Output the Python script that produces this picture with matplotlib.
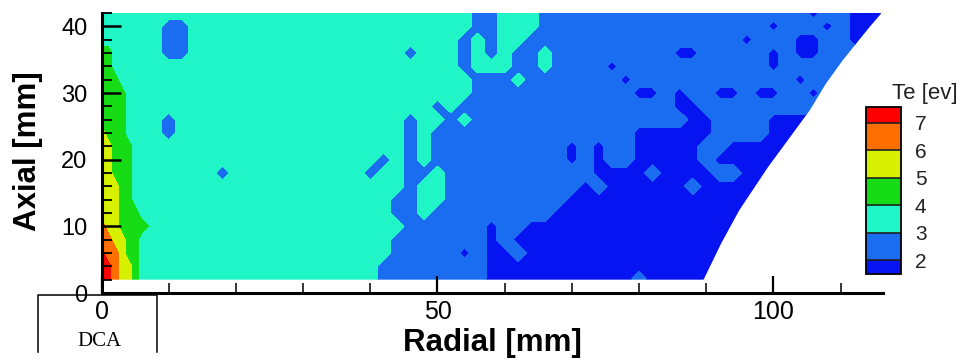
import numpy as np
import matplotlib
matplotlib.use("Agg")
import matplotlib.pyplot as plt
from matplotlib.colors import ListedColormap, BoundaryNorm
from matplotlib.patches import Polygon
from matplotlib.lines import Line2D
from matplotlib.ticker import MultipleLocator, FixedLocator

plt.rcParams['font.family'] = ['Liberation Sans', 'DejaVu Sans']

# ---- data -------------------------------------------------------------
# sample positions (mm)
radial_mm = [0, 1, 2, 3, 4, 5, 6] + list(range(8, 117, 2))
axial_mm = list(range(2, 43, 2))

# Te band read at each sample (one string per axial row, top row = 42 mm)
# columns: r=0..6 (1 mm step) then r=8..116 (2 mm step, groups of 10 mm)
te_rows = [
    "3333333 33333 33333 33333 33333 33332 23332 22222 22222 22222 22221 22111",  # 42
    "3333333 32233 33333 33333 33333 33332 23332 22222 22222 22222 21222 12111",  # 40
    "3333333 32233 33333 33333 33333 33323 23322 22222 22222 22221 22211 22111",  # 38
    "4433333 32233 33333 33333 33332 33323 23223 22222 22221 12222 21211 22222",  # 36
    "4433333 33333 33333 33333 33333 33323 33223 22221 22222 22222 21222 22222",  # 34
    "4443333 33333 33333 33333 33333 33332 22322 22222 12222 22222 22212 22222",  # 32
    "4444333 33333 33333 33333 33333 33332 22222 22222 21121 22112 11221 22222",  # 30
    "4444333 33333 33333 33333 33333 32322 22222 22222 22221 12222 22222 22222",  # 28
    "4444333 32333 33333 33333 33332 33232 22222 22222 22222 11222 21111 11111",  # 26
    "5444333 32333 33333 33333 33332 32222 22222 22222 21111 11222 21111 11111",  # 24
    "5544433 33333 33333 33333 33332 32222 22222 21212 21111 12211 11111 11111",  # 22
    "5544433 33333 33333 33333 33232 32222 22222 21212 21111 12111 11111 11111",  # 20
    "5544433 33333 23333 33333 32332 23222 22222 22211 11211 11221 11111 11111",  # 18
    "5554433 33333 33333 33333 33332 33222 22222 22121 11111 21111 11111 11111",  # 16
    "5554433 33333 33333 33333 33322 33222 22222 21111 11111 11111 11111 11111",  # 14
    "5554443 33333 33333 33333 33322 32222 22222 11111 11111 11111 11111 11111",  # 12
    "6554444 33333 33333 33333 33332 22222 12211 11111 11111 11111 11111 11111",  # 10
    "6655443 33333 33333 33333 33322 22222 12111 11111 11111 11111 11111 11111",  # 8
    "7665443 33333 33333 33333 33322 22212 11211 11111 11111 11111 11111 11111",  # 6
    "7765543 33333 33333 33333 33222 22222 11111 11111 11111 11111 11111 11111",  # 4
    "7765543 33333 33333 33333 33222 22222 11111 11111 12111 11111 11111 11111",  # 2
]
te_code = {'1': 1.7, '2': 2.5, '3': 3.5, '4': 4.5, '5': 5.5, '6': 6.5, '7': 7.3}

# measurement domain outline (mm)
domain_r = [0, 89.6, 92.2, 94.9, 99.2, 105.4, 107.8, 110.3, 112.3, 114.3, 116.1, 0]
domain_z = [2, 2, 7.4, 12.4, 18.9, 27.4, 31.4, 34.9, 37.4, 39.9, 42, 42]

te_levels = [1.5, 2, 3, 4, 5, 6, 7, 7.57]
te_ticks = [2, 3, 4, 5, 6, 7]
band_colors = ['#0514f0', '#1a6cf0', '#20f5c8', '#16dc16', '#d6f000', '#ff6e00', '#ff0000']

# ---- figure -----------------------------------------------------------
W, H = 963, 362
fig = plt.figure(figsize=(W / 100, H / 100), dpi=100)
ax = fig.add_axes([101.5 / W, 1 - 293 / H, (883 - 101.5) / W, 280 / H])

te = np.array([[te_code[c] for c in row.replace(" ", "")] for row in te_rows[::-1]])
R, Z = np.meshgrid(radial_mm, axial_mm)

cmap = ListedColormap(band_colors)
norm = BoundaryNorm(te_levels, cmap.N)
cs = ax.contourf(R, Z, te, levels=te_levels, cmap=cmap, norm=norm)
clip = Polygon(np.column_stack([domain_r, domain_z]), closed=True,
               transform=ax.transData, facecolor='none', edgecolor='none')
cs.set_clip_path(clip)

ax.set_xlim(0, 116.3)
ax.set_ylim(0, 42)
for s in ('top', 'right'):
    ax.spines[s].set_visible(False)
for s in ('left', 'bottom'):
    ax.spines[s].set_linewidth(2.2)

ax.xaxis.set_major_locator(FixedLocator([0, 50, 100]))
ax.xaxis.set_minor_locator(MultipleLocator(10))
ax.yaxis.set_major_locator(MultipleLocator(10))
ax.yaxis.set_minor_locator(MultipleLocator(2))
ax.tick_params(axis='x', which='major', direction='in', length=12, width=1.6,
               labelsize=18, pad=5, top=False)
ax.tick_params(axis='x', which='minor', direction='in', length=7, width=1.1, top=False)
ax.tick_params(axis='y', which='major', direction='in', length=14, width=1.8,
               labelsize=17, pad=10, right=False)
ax.tick_params(axis='y', which='minor', direction='in', length=7.5, width=1.3, right=False)

ax.set_xlabel("Radial [mm]", fontsize=22.5, fontweight='bold')
ax.set_ylabel("Axial [mm]", fontsize=22.5, fontweight='bold')
ax.xaxis.set_label_coords((492 - 101.5) / 781.5, (293 - 343) / 280)
ax.xaxis.label.set_verticalalignment('center')
ax.yaxis.set_label_coords((28 - 101.5) / 781.5, (293 - 151) / 280)
ax.yaxis.label.set_verticalalignment('center')

# colorbar
cax = fig.add_axes([866 / W, 1 - 274 / H, 35 / W, 167 / H])
cb = fig.colorbar(cs, cax=cax, ticks=te_ticks, drawedges=True, spacing='proportional')
cb.minorticks_off()
cb.outline.set_linewidth(1.3)
cb.dividers.set_color('#202020')
cb.dividers.set_linewidth(1.2)
cax.tick_params(which='both', length=0, labelsize=15, pad=10, colors='#222222')
fig.text(925 / W, 1 - 93 / H, "Te [ev]", ha='center', va='center', fontsize=16, color='#222222')

# DCA marker box
fig.add_artist(Line2D([38 / W, 38 / W, 157 / W, 157 / W],
                      [1 - 352 / H, 1 - 295 / H, 1 - 295 / H, 1 - 352 / H],
                      color='black', linewidth=1.1, transform=fig.transFigure))
fig.text(99.5 / W, 1 - 341 / H, "DCA", ha='center', va='center', fontsize=15,
         family=['Liberation Serif', 'DejaVu Serif'])

fig.savefig("out.png", dpi=100)
